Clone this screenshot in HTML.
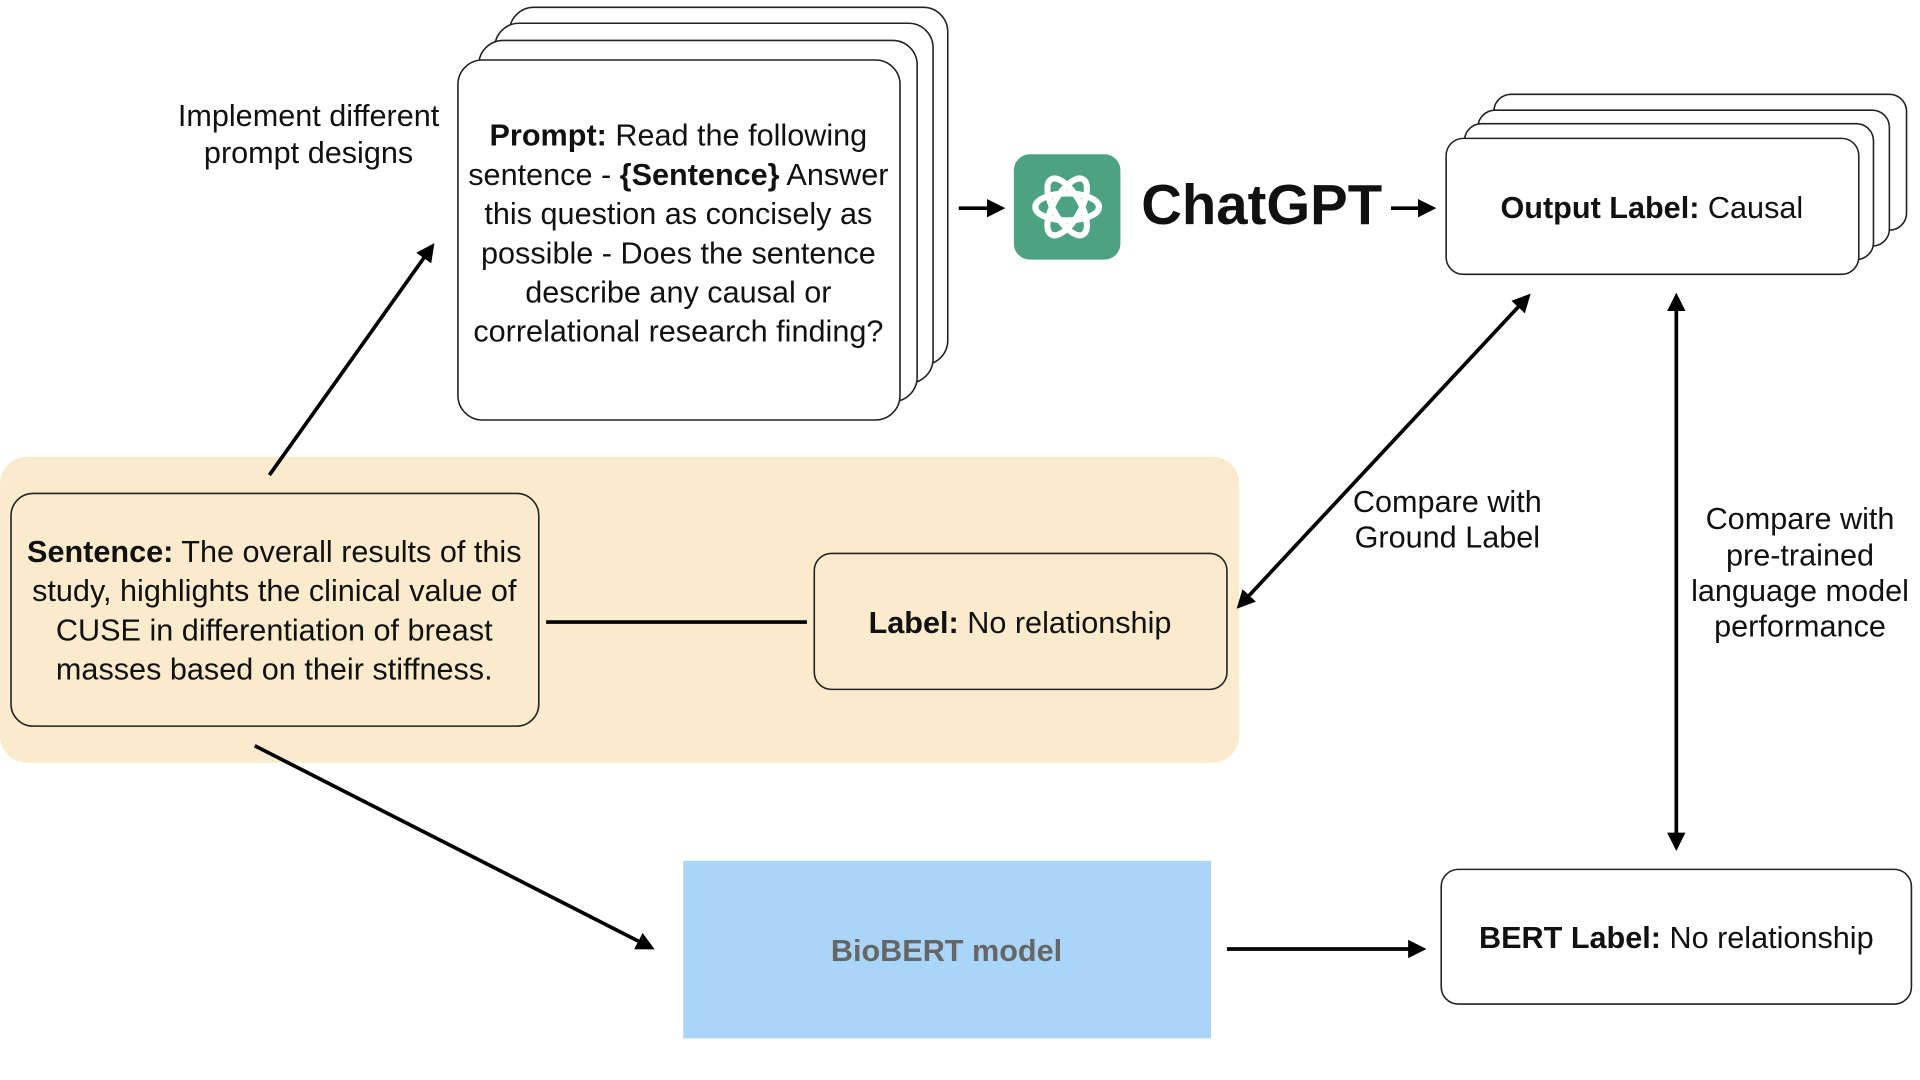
<!DOCTYPE html>
<html><head><meta charset="utf-8"><style>html,body{margin:0;padding:0;background:#fff}svg{display:block}text{font-family:"Liberation Sans",Arial,sans-serif;fill:#111}</style></head>
<body>
<svg width="1920" height="1080" viewBox="0 0 1568 882" preserveAspectRatio="none" xmlns="http://www.w3.org/2000/svg">
<defs><marker id="a" viewBox="0 0 10 10" refX="8" refY="5" markerWidth="5" markerHeight="5" orient="auto-start-reverse"><path d="M0,0 L10,5 L0,10 z" fill="#000"/></marker></defs>
<rect x="0" y="373" width="1012" height="250" rx="22" fill="#FAEBCC"/>
<g fill="#fff" stroke="#222" stroke-width="1.3">
<rect x="416" y="6" width="358" height="292" rx="20"/>
<rect x="404" y="19" width="358" height="294" rx="20"/>
<rect x="391" y="33" width="358" height="295" rx="20"/>
<rect x="374" y="49" width="361" height="294" rx="20"/>
<rect x="1220" y="77" width="337" height="111" rx="14"/>
<rect x="1207" y="90" width="336" height="111" rx="14"/>
<rect x="1196" y="101" width="334" height="111" rx="14"/>
<rect x="1181" y="113" width="337" height="111" rx="14"/>
<rect x="1177" y="710" width="384" height="110" rx="14"/>
</g>
<rect x="9" y="403" width="431" height="190" rx="18" fill="#FAEBCC" stroke="#222" stroke-width="1.3"/>
<rect x="665" y="452" width="337" height="111" rx="14" fill="#FAEBCC" stroke="#222" stroke-width="1.3"/>
<rect x="558" y="703" width="431" height="145" fill="#A9D5F8"/>
<g stroke="#000" stroke-width="3" fill="none">
<line x1="446" y1="508" x2="659" y2="508"/>
<line x1="220" y1="388" x2="353" y2="201" marker-end="url(#a)"/>
<line x1="783" y1="170" x2="818" y2="170" marker-end="url(#a)"/>
<line x1="1136" y1="170" x2="1170" y2="170" marker-end="url(#a)"/>
<line x1="1012" y1="495" x2="1248" y2="242" marker-start="url(#a)" marker-end="url(#a)"/>
<line x1="1369" y1="242" x2="1369" y2="692" marker-start="url(#a)" marker-end="url(#a)"/>
<line x1="1002" y1="775" x2="1162" y2="775" marker-end="url(#a)"/>
<line x1="208" y1="609" x2="532" y2="774" marker-end="url(#a)"/>
</g>
<rect x="828" y="126" width="87" height="86" rx="13" fill="#4DA283"/>
<g fill="none" stroke="#fff" stroke-width="5">
<ellipse cx="871.5" cy="169" rx="26" ry="11"/>
<ellipse cx="871.5" cy="169" rx="26" ry="11" transform="rotate(60 871.5 169)"/>
<ellipse cx="871.5" cy="169" rx="26" ry="11" transform="rotate(-60 871.5 169)"/>
</g>
<text x="932" y="183" font-size="46" font-weight="bold">ChatGPT</text>
<g font-size="25" text-anchor="middle">
<text x="252" y="103">Implement different</text>
<text x="252" y="133">prompt designs</text>
<text x="554" y="119"><tspan font-weight="bold">Prompt:</tspan> Read the following</text>
<text x="554" y="151">sentence - <tspan font-weight="bold">{Sentence}</tspan> Answer</text>
<text x="554" y="183">this question as concisely as</text>
<text x="554" y="215">possible - Does the sentence</text>
<text x="554" y="247">describe any causal or</text>
<text x="554" y="279">correlational research finding?</text>
<text x="1349" y="178"><tspan font-weight="bold">Output Label:</tspan> Causal</text>
<text x="224" y="459"><tspan font-weight="bold">Sentence:</tspan> The overall results of this</text>
<text x="224" y="491">study, highlights the clinical value of</text>
<text x="224" y="523">CUSE in differentiation of breast</text>
<text x="224" y="555">masses based on their stiffness.</text>
<text x="833" y="517"><tspan font-weight="bold">Label:</tspan> No relationship</text>
<text x="1182" y="418">Compare with</text>
<text x="1182" y="447">Ground Label</text>
<text x="1470" y="432">Compare with</text>
<text x="1470" y="462">pre-trained</text>
<text x="1470" y="491">language model</text>
<text x="1470" y="520">performance</text>
<text x="1369" y="774"><tspan font-weight="bold">BERT Label:</tspan> No relationship</text>
<text x="773" y="785" font-weight="bold" style="fill:#666">BioBERT model</text>
</g>
</svg>
</body></html>
